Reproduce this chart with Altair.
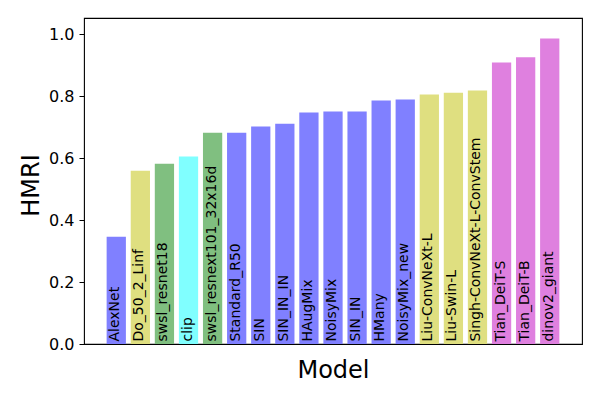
import altair as alt
import pandas as pd

models = ["AlexNet", "Do_50_2_Linf", "swsl_resnet18", "clip", "swsl_resnext101_32x16d",
          "Standard_R50", "SIN", "SIN_IN_IN", "HAugMix", "NoisyMix", "SIN_IN", "HMany",
          "NoisyMix_new", "Liu-ConvNeXt-L", "Liu-Swin-L", "Singh-ConvNeXt-L-ConvStem",
          "Tian_DeiT-S", "Tian_DeiT-B", "dinov2_giant"]
hmri = [0.346, 0.559, 0.582, 0.605, 0.682, 0.682, 0.702, 0.711, 0.747, 0.750, 0.750,
        0.786, 0.789, 0.805, 0.811, 0.818, 0.908, 0.925, 0.986]
family = ["b", "y", "g", "c", "g", "b", "b", "b", "b", "b", "b", "b", "b",
          "y", "y", "y", "m", "m", "m"]

family_names = ["b", "y", "g", "c", "m"]
family_colors = ["#8080ff", "#dfdf80", "#80bf80", "#80ffff", "#df80df"]

df = pd.DataFrame({"Model": models, "HMRI": hmri, "family": family})

x = alt.X("Model:N", sort=None,
          scale=alt.Scale(paddingInner=0.2, paddingOuter=0.94),
          axis=alt.Axis(title="Model", labels=False, ticks=False, domain=False,
                        titleFontSize=24, titleFontWeight="normal", titlePadding=14,
                        titleColor="black"))
y_scale = alt.Scale(domain=[0, 1.052], nice=False, zero=True)

bars = alt.Chart(df).mark_bar().encode(
    x=x,
    y=alt.Y("HMRI:Q", scale=y_scale,
            axis=alt.Axis(title="HMRI", values=[0, 0.2, 0.4, 0.6, 0.8, 1.0], format=".1f",
                          grid=False, domain=False, tickSize=5, tickColor="black",
                          labelFontSize=16, labelColor="black", labelPadding=5,
                          titleFontSize=24, titleFontWeight="normal", titleColor="black",
                          titleAngle=270, titleBaseline="alphabetic", titleX=-46, titleY=167)),
    color=alt.Color("family:N", scale=alt.Scale(domain=family_names, range=family_colors),
                    legend=None),
)

labels = alt.Chart(df).mark_text(angle=270, align="left", baseline="middle",
                                 fontSize=14, color="black", dy=-1).encode(
    x=alt.X("Model:N", sort=None),
    y=alt.datum(0.008),
    text="Model:N",
)

chart = alt.layer(bars, labels).properties(
    width=498, height=326,
    autosize=alt.AutoSizeParams(type="none"),
    padding={"left": 76, "top": 10, "right": 10, "bottom": 50},
).configure(font="DejaVu Sans").configure_view(stroke="black", strokeWidth=1.1)

chart.save("out.html", embed_options={"renderer": "svg", "actions": False})
